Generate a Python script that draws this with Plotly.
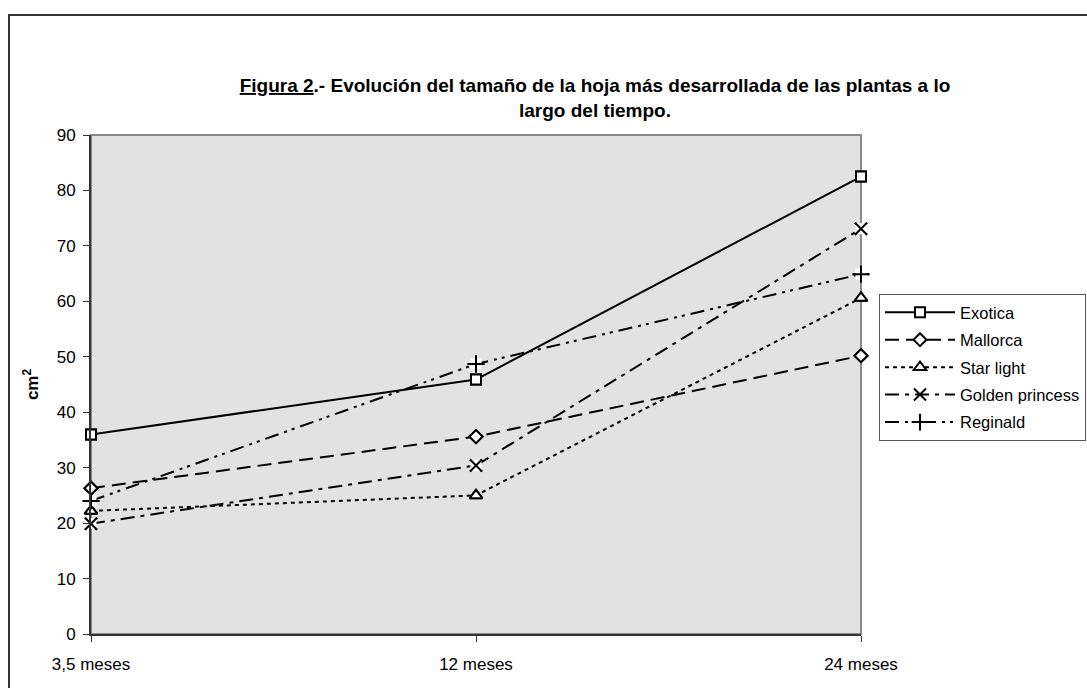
import plotly.graph_objects as go

# Leaf size (cm²) of the most developed leaf, per variety and plant age
meses = ["3,5 meses", "12 meses", "24 meses"]
exotica = [36.0, 45.9, 82.5]
mallorca = [26.3, 35.6, 50.2]
star_light = [22.2, 25.0, 60.6]
golden_princess = [19.9, 30.4, 73.1]
reginald = [24.0, 48.7, 64.9]

# name, values, dash pattern, marker symbol, marker size, white box behind marker
series = [
    ("Exotica", exotica, "solid", "square", 10, False),
    ("Mallorca", mallorca, "14px,7px", "diamond", 10, False),
    ("Star light", star_light, "4px,4px", "triangle-up", 11, False),
    ("Golden princess", golden_princess, "14px,6px,4px,6px", "x-thin-open", 12, True),
    ("Reginald", reginald, "14px,6px,3px,5px,3px,6px", "cross-thin-open", 12, True),
]

W, H = 1087, 688
L, R, T, B = 91, 861, 135, 634

fig = go.Figure()
for i, (name, vals, dash, sym, size, box) in enumerate(series):
    fig.add_trace(go.Scatter(
        x=meses, y=vals, name=name, mode="lines+markers",
        legendgroup=f"g{i}", cliponaxis=False,
        line=dict(color="black", width=2, dash=dash),
        marker=dict(symbol=sym, size=size, color="black" if box else "white",
                    line=dict(color="black", width=2)),
    ))
for i, (name, vals, dash, sym, size, box) in enumerate(series):
    if box:
        # white backing square hides the line under the thin marker
        fig.add_trace(go.Scatter(
            x=meses, y=vals, mode="markers", showlegend=False, hoverinfo="skip",
            cliponaxis=False,
            marker=dict(symbol="square", size=size - 1, color="white",
                        line=dict(width=0)),
        ))
    fig.add_trace(go.Scatter(
        x=meses, y=vals, mode="markers", showlegend=False, hoverinfo="skip",
        cliponaxis=False,
        marker=dict(symbol=sym, size=size, color="black" if box else "white",
                    line=dict(color="black", width=2)),
    ))

font = "Liberation Sans, Arial, sans-serif"
pw, ph = R - L, B - T

fig.update_layout(
    width=W, height=H,
    margin=dict(l=L, r=W - R, t=T, b=H - B, autoexpand=False),
    paper_bgcolor="white",
    plot_bgcolor="#E2E2E2",
    font=dict(family=font, size=17, color="black"),
    title=dict(
        text="<b><u>Figura 2</u>.- Evolución del tamaño de la hoja más desarrollada de las plantas a lo<br>largo del tiempo.</b>",
        x=595 / W, xanchor="center", xref="container",
        y=1 - 92 / H, yanchor="top", yref="container",
        font=dict(family=font, size=19, color="black"),
    ),
    xaxis=dict(
        type="category", range=[0, 2],
        showgrid=False, zeroline=False,
        showline=True, linecolor="#333333", linewidth=2,
        ticks="outside", ticklen=6, tickcolor="#333333", tickwidth=1,
        tickfont=dict(size=17), ticklabelstandoff=8,
    ),
    yaxis=dict(
        range=[0, 90], dtick=10,
        showgrid=False, zeroline=False,
        showline=True, linecolor="#333333", linewidth=2,
        ticks="outside", ticklen=6, tickcolor="#333333", tickwidth=1,
        tickfont=dict(size=17), ticklabelstandoff=4,
        title=dict(text="<b>cm<sup>2</sup></b>", standoff=14,
                   font=dict(family=font, size=17)),
    ),
    legend=dict(
        x=(879 - L) / pw, y=(B - 294) / ph, xanchor="left", yanchor="top",
        bgcolor="white", bordercolor="#555555", borderwidth=1,
        font=dict(family=font, size=16.5),
        traceorder="grouped", tracegroupgap=3, itemwidth=70,
    ),
    shapes=[
        # grey frame on top and right of the plot area
        dict(type="rect", xref="paper", yref="paper", x0=0, x1=1, y0=0, y1=1,
             line=dict(color="#8A8A8A", width=2), layer="below"),
        # outer chart border
        dict(type="rect", xref="paper", yref="paper",
             x0=(9 - L) / pw, x1=1.6, y0=-0.5, y1=(B - 15) / ph,
             line=dict(color="#333333", width=2), fillcolor="rgba(0,0,0,0)"),
    ],
)

fig.write_html("out.html")
